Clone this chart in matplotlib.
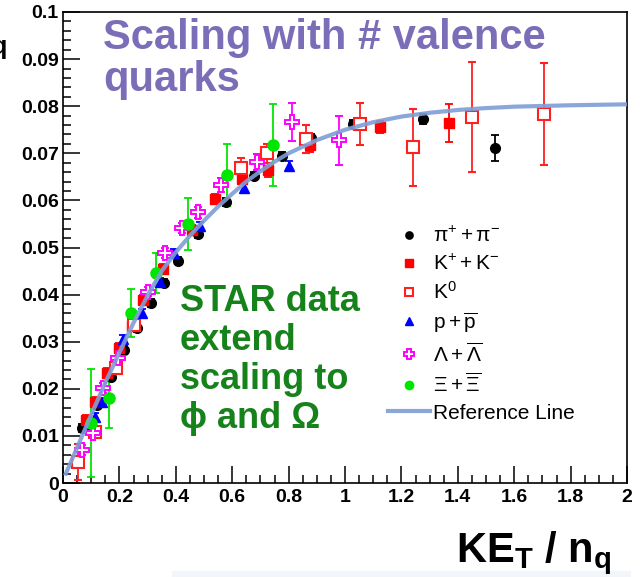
import numpy as np
import matplotlib
matplotlib.use("Agg")
import matplotlib.pyplot as plt
from matplotlib.ticker import FixedLocator, MultipleLocator
from matplotlib.patches import Rectangle

plt.rcParams['font.family'] = ['Liberation Sans', 'DejaVu Sans']
plt.rcParams['mathtext.fontset'] = 'custom'
plt.rcParams['mathtext.rm'] = 'Liberation Sans'
plt.rcParams['mathtext.it'] = 'Liberation Sans:italic'
plt.rcParams['mathtext.bf'] = 'Liberation Sans:bold'

# v2/nq vs KE_T/nq for each species
pi_x = [0.067, 0.12, 0.170, 0.216, 0.262, 0.312, 0.358, 0.408, 0.479, 0.578, 0.677, 0.777, 0.879, 1.028, 1.277, 1.532]
pi_y = [0.0117, 0.0166, 0.0225, 0.0282, 0.0329, 0.0382, 0.0425, 0.0472, 0.0529, 0.0597, 0.0652, 0.0694, 0.0732, 0.0762, 0.0773, 0.0711]
pi_e = [0.0008, 0.0008, 0.0008, 0.0008, 0.0008, 0.0008, 0.0008, 0.0008, 0.0008, 0.0008, 0.0008, 0.0008, 0.0008, 0.0008, 0.0010, 0.0028]

k_x = [0.082, 0.113, 0.156, 0.199, 0.245, 0.284, 0.355, 0.457, 0.539, 0.634, 0.727, 0.876, 1.124, 1.369]
k_y = [0.0134, 0.0172, 0.0234, 0.0287, 0.0333, 0.0389, 0.0455, 0.0537, 0.0603, 0.0645, 0.0665, 0.0718, 0.0756, 0.0764]
k_e = [0.001, 0.001, 0.001, 0.001, 0.001, 0.001, 0.001, 0.001, 0.001, 0.001, 0.0015, 0.0015, 0.0013, 0.004]

k0_x = [0.053, 0.113, 0.188, 0.250, 0.631, 0.723, 0.862, 1.053, 1.241, 1.450, 1.706]
k0_y = [0.0045, 0.0108, 0.0244, 0.0335, 0.0669, 0.0700, 0.0730, 0.0762, 0.0713, 0.0777, 0.0783]
k0_e = [0.0038, 0.001, 0.0012, 0.001, 0.002, 0.002, 0.003, 0.0045, 0.0082, 0.0117, 0.0108]

p_x = [0.085, 0.113, 0.138, 0.213, 0.280, 0.344, 0.394, 0.486, 0.642, 0.801]
p_y = [0.0119, 0.0140, 0.0172, 0.0306, 0.0361, 0.0427, 0.0488, 0.0546, 0.0626, 0.0673]
p_e = [0.0008, 0.0008, 0.0008, 0.0008, 0.0008, 0.0008, 0.0008, 0.0008, 0.0008, 0.001]

lam_x = [0.067, 0.106, 0.142, 0.195, 0.301, 0.362, 0.422, 0.479, 0.560, 0.688, 0.812, 0.979]
lam_y = [0.0070, 0.0106, 0.0202, 0.0265, 0.0406, 0.0488, 0.0541, 0.0575, 0.0633, 0.0682, 0.0766, 0.0728]
lam_e = [0.001, 0.001, 0.001, 0.001, 0.001, 0.001, 0.001, 0.0012, 0.0015, 0.0017, 0.004, 0.0052]

xi_x = [0.099, 0.163, 0.241, 0.330, 0.443, 0.582, 0.745]
xi_y = [0.0127, 0.0180, 0.0361, 0.0446, 0.0550, 0.0654, 0.0718]
xi_e = [0.0114, 0.0063, 0.0050, 0.0043, 0.0055, 0.0065, 0.0087]

ref_x = [0.01, 0.05, 0.1, 0.15, 0.2, 0.25, 0.3, 0.35, 0.4, 0.45, 0.5, 0.55, 0.6, 0.65, 0.7,
         0.75, 0.8, 0.9, 1.0, 1.1, 1.2, 1.3, 1.4, 1.5, 1.6, 1.8, 2.0]
ref_y = [0.0020, 0.0075, 0.0145, 0.0213, 0.0277, 0.0340, 0.0398, 0.0450, 0.0490, 0.0525, 0.0557,
         0.0587, 0.0614, 0.0640, 0.0662, 0.0682, 0.0700, 0.0728, 0.0750, 0.0766, 0.0778, 0.0786,
         0.0792, 0.0796, 0.0799, 0.0802, 0.0804]

xticks = [0, 0.2, 0.4, 0.6, 0.8, 1, 1.2, 1.4, 1.6, 1.8, 2]
xlabels = ['0', '0.2', '0.4', '0.6', '0.8', '1', '1.2', '1.4', '1.6', '1.8', '2']
yticks = [0, 0.01, 0.02, 0.03, 0.04, 0.05, 0.06, 0.07, 0.08, 0.09, 0.1]
ylabels = ['0', '0.01', '0.02', '0.03', '0.04', '0.05', '0.06', '0.07', '0.08', '0.09', '0.1']

fig = plt.figure(figsize=(6.44, 5.77), dpi=100)
ax = fig.add_axes([63/644, 1-483/577, 564/644, 471/577])

eb = dict(linestyle='none', elinewidth=1.3, capsize=3, capthick=1.3)
h_pi = ax.errorbar(pi_x, pi_y, yerr=pi_e, marker='o', ms=7, color='black', **eb)
h_k = ax.errorbar(k_x, k_y, yerr=k_e, marker='s', ms=7, color='#ff0000', **eb)
h_k0 = ax.errorbar(k0_x, k0_y, yerr=k0_e, marker='s', ms=8, mfc='white', mec='#ff2020',
                   mew=1.5, color='#ff2020', **eb)
h_p = ax.errorbar(p_x, p_y, yerr=p_e, marker='^', ms=7, color='#0000ff', **eb)
h_lam = ax.errorbar(lam_x, lam_y, yerr=lam_e, marker='P', ms=10, mfc='white', mec='#ff00ff',
                    mew=1.4, color='#ff00ff', **eb)
h_xi = ax.errorbar(xi_x, xi_y, yerr=xi_e, marker='o', ms=8, color='#00e600', **eb)
h_ref, = ax.plot(ref_x, ref_y, color='#7f9ed6', lw=3, alpha=0.9, zorder=5)

ax.set_xlim(0, 2)
ax.set_ylim(0, 0.1)
ax.xaxis.set_major_locator(FixedLocator(xticks))
ax.set_xticklabels(xlabels)
ax.xaxis.set_minor_locator(MultipleLocator(0.05))
ax.yaxis.set_major_locator(FixedLocator(yticks))
ax.set_yticklabels(ylabels)
ax.yaxis.set_minor_locator(MultipleLocator(0.002))
ax.tick_params(which='major', direction='in', length=12, width=1.1, labelsize=14, pad=3)
ax.tick_params(which='minor', direction='in', length=6, width=1.1)
ax.tick_params(axis='x', which='major', pad=4)
for lab in ax.get_xticklabels() + ax.get_yticklabels():
    lab.set_fontweight('bold')
for s in ax.spines.values():
    s.set_linewidth(1.2)

# legend shows the markers only, without the error bars
handles = [h_pi[0], h_k[0], h_k0[0], h_p[0], h_lam[0], h_xi[0], h_ref]
labels = [r'$\mathrm{\pi^{+} + \pi^{-}}$', r'$\mathrm{K^{+} + K^{-}}$', r'$\mathrm{K^{0}}$',
          r'$\mathrm{p + \overline{p}}$', r'$\mathrm{\Lambda + \overline{\Lambda}}$',
          r'$\mathrm{\Xi + \overline{\Xi}}$', 'Reference Line']
ax.legend(handles, labels, frameon=False,
          fontsize=15, markerscale=0.75, handlelength=2.0, handletextpad=0.15,
          labelspacing=0.35, loc='upper left', bbox_to_anchor=(380/644, 1-218/577),
          bbox_transform=fig.transFigure, borderaxespad=0)

fig.text(103/644, 1-18/577, 'Scaling with # valence\nquarks', color='#7b6db7',
         fontsize=30, fontweight='bold', va='top', ha='left', linespacing=1.05)
fig.text(180/644, 1-284/577, 'STAR data\nextend\nscaling to\n\u03d5 and \u03a9', color='#15821a',
         fontsize=26, fontweight='bold', va='top', ha='left', linespacing=1.15)

fig.text(612/644, 1-562/577, r'$\mathbf{KE_T\ /\ n_q}$', fontsize=30, ha='right', va='baseline')
fig.text(8/644, 1-48/577, r'$\mathbf{v_2/n_q}$', fontsize=26, ha='right', va='baseline')

fig.patches.append(Rectangle((172/644, 0), 458/644, 6/577, transform=fig.transFigure,
                             color='#f2f6fb', zorder=0))

fig.savefig('out.png', dpi=100)
